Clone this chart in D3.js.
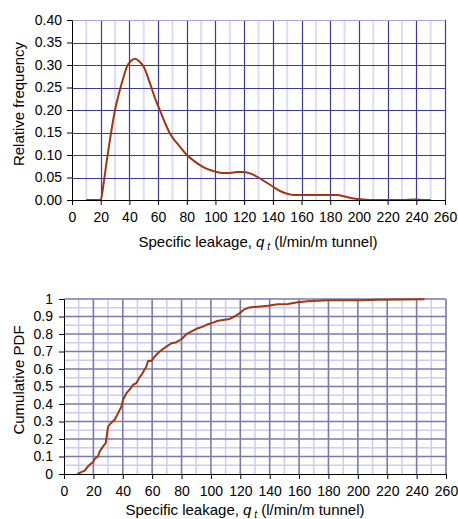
<!DOCTYPE html>
<html>
<head>
<meta charset="utf-8">
<script src="https://cdn.jsdelivr.net/npm/d3@7"></script>
<style>
  body { margin: 0; background: #fff; }
  svg { display: block; font-family: "Liberation Sans", Arial, sans-serif; }
</style>
</head>
<body>
<script>
// relative frequency curve (top)
var freqX = [10, 20, 22, 24, 26.5, 30, 33.4, 36, 38, 41, 44, 47, 50, 54.4, 58, 61.3, 65, 68.3, 75.3, 80, 85, 90, 95, 100, 105, 110, 115, 120, 125, 130, 135, 140, 145, 150, 155, 160, 170, 180, 185, 190, 195, 200, 205, 210, 220, 230, 240, 245, 250];
var freqY = [0, 0, 0.036, 0.082, 0.135, 0.2, 0.245, 0.274, 0.294, 0.309, 0.314, 0.308, 0.296, 0.259, 0.225, 0.199, 0.17, 0.148, 0.118, 0.1, 0.087, 0.076, 0.068, 0.063, 0.06, 0.06, 0.062, 0.062, 0.058, 0.05, 0.04, 0.03, 0.02, 0.014, 0.011, 0.011, 0.011, 0.011, 0.011, 0.008, 0.004, 0.002, 0.0005, 0, 0, 0, 0.001, 0, 0];

// cumulative pdf (bottom)
var cdfX = [9.1, 11.8, 14.1, 16.3, 18, 19.7, 20.9, 23.1, 24.3, 26.6, 28.4, 30, 31.8, 34.5, 36.8, 39.1, 40.2, 42.5, 45.4, 47, 49.3, 51, 52.7, 56.1, 57.2, 59.5, 61.7, 65.1, 69.7, 73.1, 76.5, 79.9, 83.3, 87.8, 91.2, 94.6, 98, 101.4, 104.8, 108.2, 112.8, 116, 119.4, 122.8, 126.2, 131.9, 138.7, 145.5, 152.3, 159.1, 165.9, 172.7, 179.5, 202.2, 213.6, 245.3];
var cdfY = [0, 0.011, 0.019, 0.043, 0.057, 0.066, 0.087, 0.1, 0.129, 0.158, 0.177, 0.27, 0.29, 0.31, 0.348, 0.386, 0.424, 0.462, 0.49, 0.51, 0.519, 0.548, 0.566, 0.614, 0.646, 0.646, 0.671, 0.7, 0.728, 0.747, 0.753, 0.77, 0.799, 0.819, 0.833, 0.842, 0.856, 0.865, 0.876, 0.88, 0.886, 0.9, 0.918, 0.941, 0.952, 0.956, 0.962, 0.97, 0.971, 0.981, 0.987, 0.99, 0.993, 0.993, 0.996, 0.998];

var xTicks = d3.range(0, 261, 20);
var freqTicks = d3.range(0, 0.401, 0.05);
var cdfTicks = d3.range(0, 1.001, 0.1);

var svg = d3.select("body").append("svg")
    .attr("width", 458)
    .attr("height", 519);

var lineColor = "#a3360c";

function xTitle(g, x, y) {
  var t = g.append("text")
      .attr("x", x).attr("y", y)
      .attr("text-anchor", "middle")
      .style("font-size", "15px")
      .attr("fill", "#000");
  t.append("tspan").text("Specific leakage, ");
  t.append("tspan").style("font-style", "italic").text("q");
  t.append("tspan").style("font-style", "italic").style("font-size", "10px").attr("dy", 3).text(" t");
  t.append("tspan").attr("dy", -3).text("  (l/min/m tunnel)");
}

function styleAxis(a) {
  a.selectAll("text").style("font-size", "14px").attr("fill", "#000").style("font-family", "inherit");
  a.select(".domain").attr("stroke", "#000");
  a.selectAll(".tick line").attr("stroke", "#000");
}

// ---------- top chart
(function () {
  var left = 72, right = 445, top = 20, bottom = 200;
  var x = d3.scaleLinear().domain([0, 260]).range([left, right]);
  var y = d3.scaleLinear().domain([0, 0.4]).range([bottom, top]);
  var g = svg.append("g");

  // minor vertical
  g.selectAll(".vmin").data(d3.range(10, 260, 20)).enter().append("line")
      .attr("x1", d => x(d)).attr("x2", d => x(d))
      .attr("y1", top).attr("y2", bottom)
      .attr("stroke", "#dcdcfa").attr("stroke-width", 2);
  // major vertical
  g.selectAll(".vmaj").data(xTicks.slice(1)).enter().append("line")
      .attr("x1", d => Math.round(x(d)) + 0.5).attr("x2", d => Math.round(x(d)) + 0.5)
      .attr("y1", top).attr("y2", bottom)
      .attr("stroke", "#3a3aa0").attr("stroke-width", 1.2);
  // horizontal
  g.selectAll(".hmaj").data(freqTicks.slice(1)).enter().append("line")
      .attr("x1", left).attr("x2", right)
      .attr("y1", d => Math.round(y(d)) + 0.5).attr("y2", d => Math.round(y(d)) + 0.5)
      .attr("stroke", d => d > 0.39 ? "#a8a8d8" : "#3a3aa0").attr("stroke-width", 1.2);

  g.append("path")
      .datum(d3.zip(freqX, freqY))
      .attr("fill", "none")
      .attr("stroke", lineColor)
      .attr("stroke-width", 2)
      .attr("stroke-linejoin", "round")
      .attr("d", d3.line().x(d => x(d[0])).y(d => y(d[1])).curve(d3.curveMonotoneX));

  var xa = g.append("g").attr("transform", "translate(0," + bottom + ")")
      .call(d3.axisBottom(x).tickValues(xTicks).tickSize(5).tickSizeOuter(0).tickPadding(7));
  var ya = g.append("g").attr("transform", "translate(" + left + ",0)")
      .call(d3.axisLeft(y).tickValues(freqTicks).tickFormat(d3.format(".2f")).tickSize(5).tickSizeOuter(0).tickPadding(5));
  styleAxis(xa);
  styleAxis(ya);

  svg.append("text")
      .attr("transform", "translate(24,104) rotate(-90)")
      .attr("text-anchor", "middle")
      .style("font-size", "15px")
      .text("Relative frequency");
  xTitle(svg, 258, 247);
})();

// ---------- bottom chart
(function () {
  var left = 64, right = 446, top = 299, bottom = 474;
  var x = d3.scaleLinear().domain([0, 260]).range([left, right]);
  var y = d3.scaleLinear().domain([0, 1]).range([bottom, top]);
  var g = svg.append("g");

  g.selectAll(".vmin").data(d3.range(10, 260, 20)).enter().append("line")
      .attr("x1", d => x(d)).attr("x2", d => x(d))
      .attr("y1", top).attr("y2", bottom)
      .attr("stroke", "#ccccf4").attr("stroke-width", 1.5);
  g.selectAll(".hmin").data(d3.range(0.05, 1, 0.1)).enter().append("line")
      .attr("x1", left).attr("x2", right)
      .attr("y1", d => y(d)).attr("y2", d => y(d))
      .attr("stroke", "#ccccf4").attr("stroke-width", 1.5);
  g.selectAll(".vmaj").data(xTicks.slice(1)).enter().append("line")
      .attr("x1", d => x(d)).attr("x2", d => x(d))
      .attr("y1", top).attr("y2", bottom)
      .attr("stroke", "#7a7aaa").attr("stroke-width", 1.6);
  g.selectAll(".hmaj").data(cdfTicks.slice(1)).enter().append("line")
      .attr("x1", left).attr("x2", right)
      .attr("y1", d => y(d)).attr("y2", d => y(d))
      .attr("stroke", "#7a7aaa").attr("stroke-width", 1.6);

  g.append("path")
      .datum(d3.zip(cdfX, cdfY))
      .attr("fill", "none")
      .attr("stroke", lineColor)
      .attr("stroke-width", 2)
      .attr("stroke-linejoin", "round")
      .attr("d", d3.line().x(d => x(d[0])).y(d => y(d[1])));

  var xa = g.append("g").attr("transform", "translate(0," + bottom + ")")
      .call(d3.axisBottom(x).tickValues(xTicks).tickSize(5).tickSizeOuter(0).tickPadding(7));
  var ya = g.append("g").attr("transform", "translate(" + left + ",0)")
      .call(d3.axisLeft(y).tickValues(cdfTicks).tickFormat(d3.format("~g")).tickSize(5).tickSizeOuter(0).tickPadding(6));
  styleAxis(xa);
  styleAxis(ya);

  svg.append("text")
      .attr("transform", "translate(24,380) rotate(-90)")
      .attr("text-anchor", "middle")
      .style("font-size", "15px")
      .text("Cumulative PDF");
  xTitle(svg, 245, 515);
})();
</script>
</body>
</html>
